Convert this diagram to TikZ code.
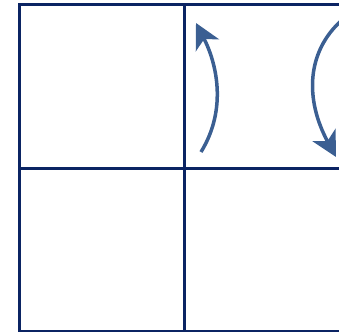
\documentclass[tikz,border=0pt]{standalone}
\usetikzlibrary{arrows.meta}
\definecolor{gridnavy}{HTML}{0B2463}
\definecolor{arrowblue}{HTML}{3B5F92}
\tikzset{
  gridline/.style={draw=gridnavy, line width=3pt},
  flowarrow/.style={draw=arrowblue, line width=3.5pt,
    -{Stealth[length=25pt, width=26pt, inset=7pt]}}
}
\begin{document}
\begin{tikzpicture}[x=1pt, y=-1pt]
\useasboundingbox (0,0) rectangle (339,331);
\clip (0,0) rectangle (339,331);
% grid
\draw[gridline] (19,5) rectangle (349,331);
\draw[gridline] (184,5) -- (184,331);
\draw[gridline] (19,168) -- (349,168);
% arrows
\coordinate (a1s) at (201,152);
\coordinate (a1e) at (196,23);
\coordinate (a2s) at (342,20);
\coordinate (a2e) at (336,157);
\draw[flowarrow] (a1s) .. controls (228,108) and (216,62) .. (a1e);
\draw[flowarrow] (a2s) .. controls (306,52) and (305,100) .. (a2e);
\end{tikzpicture}
\end{document}
